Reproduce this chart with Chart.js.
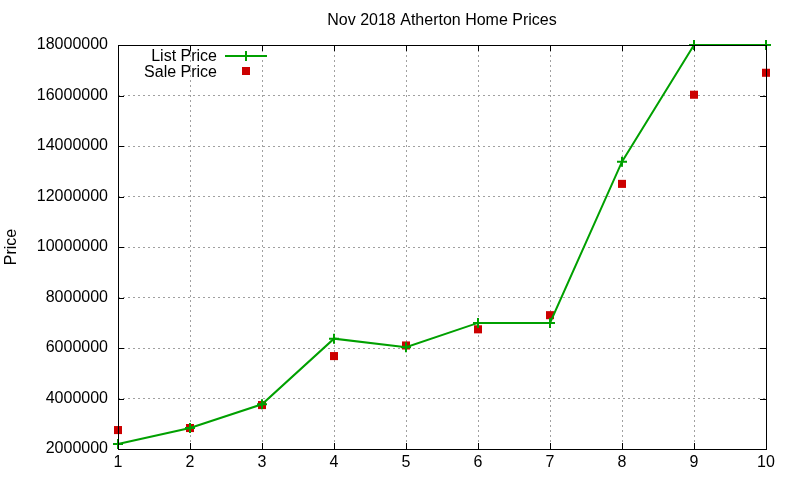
<!DOCTYPE html>
<html>
<head>
<meta charset="utf-8">
<script src="https://cdn.jsdelivr.net/npm/chart.js@4"></script>
<style>
  html, body { margin: 0; padding: 0; background: #fff; }
  #wrap { width: 800px; height: 480px; }
</style>
</head>
<body>
<div id="wrap"><canvas id="priceChart" width="800" height="480"></canvas></div>
<script>
// Nov 2018 Atherton home prices
const HOMES       = [1, 2, 3, 4, 5, 6, 7, 8, 9, 10];
const LIST_PRICE  = [2195000, 2830000, 3770000, 6370000, 6030000, 6995000, 6995000, 13380000, 18000000, 18000000];
const SALE_PRICE  = [2750000, 2830000, 3740000, 5680000, 6100000, 6740000, 7300000, 12500000, 16030000, 16900000];
const Y_TICKS     = [2000000, 4000000, 6000000, 8000000, 10000000, 12000000, 14000000, 16000000, 18000000];
const TITLE       = 'Nov 2018 Atherton Home Prices';

const GREEN = '#00a000';
const RED   = '#cc0000';
const FONT  = '"Liberation Sans", Arial, sans-serif';

// gnuplot-ish frame: full border + inward ticks on all four sides, title over the plot
const framePlugin = {
  id: 'frame',
  afterDraw(chart) {
    const { ctx, chartArea: a, scales } = chart;
    ctx.save();
    ctx.strokeStyle = '#000';
    ctx.lineWidth = 1;
    ctx.beginPath();
    HOMES.forEach(v => {
      const x = Math.round(scales.x.getPixelForValue(v)) + 0.5;
      ctx.moveTo(x, a.bottom); ctx.lineTo(x, a.bottom - 6);
      ctx.moveTo(x, a.top);    ctx.lineTo(x, a.top + 6);
    });
    Y_TICKS.forEach(v => {
      const y = Math.round(scales.y.getPixelForValue(v)) + 0.5;
      ctx.moveTo(a.left, y);  ctx.lineTo(a.left + 6, y);
      ctx.moveTo(a.right, y); ctx.lineTo(a.right - 6, y);
    });
    ctx.stroke();
    ctx.strokeRect(Math.round(a.left) + 0.5, Math.round(a.top) + 0.5,
                   Math.round(a.right - a.left), Math.round(a.bottom - a.top));

    ctx.font = '16px ' + FONT;
    ctx.fillStyle = '#000';
    ctx.textAlign = 'center';
    ctx.textBaseline = 'middle';
    ctx.fillText(TITLE, (a.left + a.right) / 2, 21);
    ctx.restore();
  }
};

// key in the top-left corner, text to the left of the sample
const keyPlugin = {
  id: 'key',
  afterDraw(chart) {
    const { ctx } = chart;
    ctx.save();
    ctx.font = '16px ' + FONT;
    ctx.fillStyle = '#000';
    ctx.textAlign = 'right';
    ctx.textBaseline = 'middle';
    ctx.fillText('List Price', 217, 56.5);
    ctx.fillText('Sale Price', 217, 72.5);
    ctx.strokeStyle = GREEN;
    ctx.lineWidth = 2;
    ctx.beginPath();
    ctx.moveTo(225, 56); ctx.lineTo(267, 56);
    ctx.moveTo(246, 51); ctx.lineTo(246, 61);
    ctx.stroke();
    ctx.fillStyle = RED;
    ctx.fillRect(242, 67, 8, 8);
    ctx.restore();
  }
};

new Chart(document.getElementById('priceChart'), {
  type: 'line',
  data: {
    datasets: [
      {
        label: 'List Price',
        data: HOMES.map((h, i) => ({ x: h, y: LIST_PRICE[i] })),
        borderColor: GREEN,
        borderWidth: 2,
        pointStyle: 'cross',
        pointRadius: 5,
        pointBorderColor: GREEN,
        pointBorderWidth: 2,
        tension: 0,
        fill: false,
        clip: false,
      },
      {
        label: 'Sale Price',
        data: HOMES.map((h, i) => ({ x: h, y: SALE_PRICE[i] })),
        showLine: false,
        pointStyle: 'rect',
        pointRadius: 5.7,
        pointBorderWidth: 0,
        pointBackgroundColor: RED,
        pointBorderColor: RED,
        clip: false,
      },
    ],
  },
  options: {
    responsive: false,
    animation: false,
    devicePixelRatio: 1,
    layout: { padding: { left: 0, right: 34, top: 45, bottom: 0 } },
    plugins: {
      legend: { display: false },
      tooltip: { enabled: false },
      title: { display: false },
    },
    scales: {
      x: {
        type: 'linear',
        min: 1, max: 10,
        afterFit: s => { s.height = 31; },
        afterBuildTicks: s => { s.ticks = HOMES.map(v => ({ value: v })); },
        ticks: { color: '#000', padding: 4, font: { family: FONT, size: 16 } },
        grid: { color: '#a0a0a0', drawTicks: false },
        border: { display: false, dash: [2, 3] },
      },
      y: {
        min: 2000000, max: 18000000,
        afterFit: s => { s.width = 118; },
        afterBuildTicks: s => { s.ticks = Y_TICKS.map(v => ({ value: v })); },
        ticks: { color: '#000', padding: 10, font: { family: FONT, size: 16 }, callback: v => String(v) },
        grid: { color: '#a0a0a0', drawTicks: false },
        border: { display: false, dash: [2, 3] },
        title: {
          display: true,
          text: 'Price',
          color: '#000',
          font: { family: FONT, size: 16 },
          padding: { top: 2, bottom: 4 },
        },
      },
    },
  },
  plugins: [framePlugin, keyPlugin],
});
</script>
</body>
</html>
